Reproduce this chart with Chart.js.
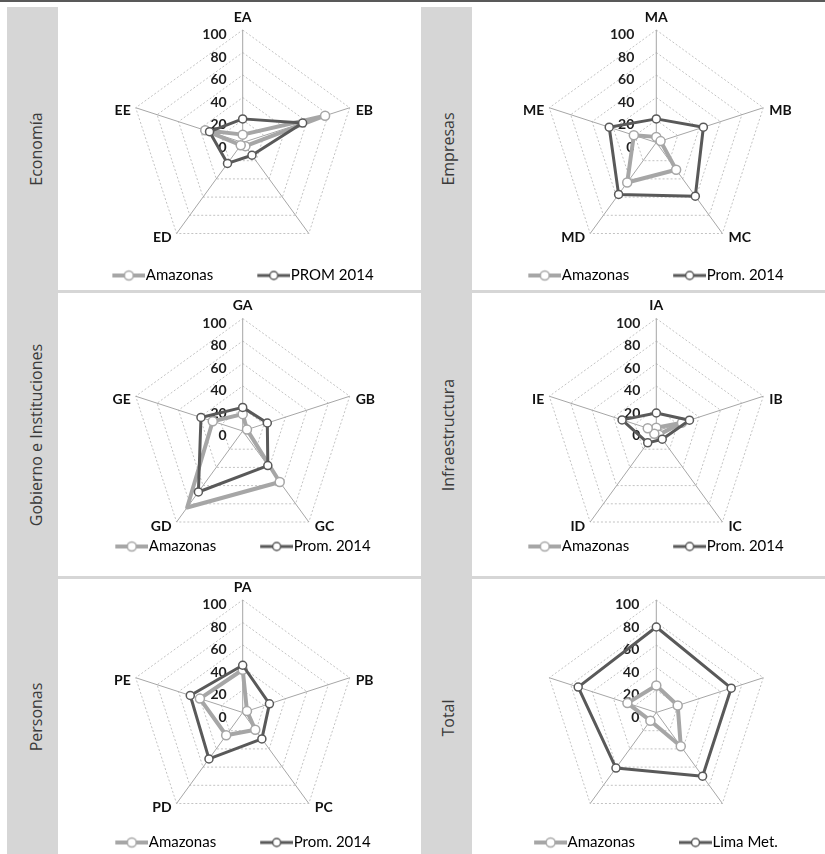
<!DOCTYPE html>
<html>
<head>
<meta charset="utf-8">
<script src="https://cdn.jsdelivr.net/npm/chart.js@4/dist/chart.umd.min.js"></script>
<style>
html,body{margin:0;padding:0;background:#fff;overflow:hidden;}
#page{position:relative;width:825px;height:854px;overflow:hidden;background:#fff;}
.topline{position:absolute;left:0;top:0;width:825px;height:2px;background:#595959;}
.bar{position:absolute;top:7px;height:847px;width:51px;background:#d6d6d6;}
.sep{position:absolute;height:3px;background:#d6d6d6;}
.side{position:absolute;transform:translate(-50%,-50%) rotate(-90deg);white-space:nowrap;font-family:"Open Sans",sans-serif;font-size:16px;color:#3a3a3a;}
canvas{position:absolute;}
</style>
</head>
<body>
<div id="page">
  <div class="topline"></div>
  <div class="bar" style="left:7px"></div>
  <div class="bar" style="left:421px"></div>
  <div class="sep" style="left:58px;width:363px;top:290px"></div>
  <div class="sep" style="left:472px;width:353px;top:290px"></div>
  <div class="sep" style="left:58px;width:363px;top:576px"></div>
  <div class="sep" style="left:472px;width:353px;top:576px"></div>
  <div class="side" style="left:35.5px;top:149px">Economía</div>
  <div class="side" style="left:447.5px;top:149px">Empresas</div>
  <div class="side" style="left:35.5px;top:435px">Gobierno e Instituciones</div>
  <div class="side" style="left:447.5px;top:435px">Infraestructura</div>
  <div class="side" style="left:35.5px;top:717px">Personas</div>
  <div class="side" style="left:447.5px;top:718px">Total</div>
</div>
<script>
// ---------------- data ----------------
const RING_TICKS = [0, 20, 40, 60, 80, 100];

const ecoCats = ['EA', 'EB', '', 'ED', 'EE'];
const ecoAmazonas = [7, 77, 4, 3, 35];
const ecoProm = [21, 56, 14, 23, 31];
const ecoNames = ['Amazonas', 'PROM 2014'];

const empCats = ['MA', 'MB', 'MC', 'MD', 'ME'];
const empAmazonas = [5, 4, 30, 44, 21];
const empProm = [21, 44, 59, 57, 44];
const empNames = ['Amazonas', 'Prom. 2014'];

const gobCats = ['GA', 'GB', 'GC', 'GD', 'GE'];
const gobAmazonas = [15, 4, 56, 84, 28];
const gobProm = [21, 23, 38, 67, 39];
const gobNames = ['Amazonas', 'Prom. 2014'];

const infCats = ['IA', 'IB', 'IC', 'ID', 'IE'];
const infAmazonas = [3, 24, 4, 3, 8];
const infProm = [16, 31, 9, 13, 32];
const infNames = ['Amazonas', 'Prom. 2014'];

const perCats = ['PA', 'PB', 'PC', 'PD', 'PE'];
const perAmazonas = [38, 4, 19, 25, 40];
const perProm = [42, 25, 29, 51, 49];
const perNames = ['Amazonas', 'Prom. 2014'];

const totCats = ['Economía', 'Empresas', 'Gobierno e Instituciones', 'Infraestructura', 'Personas'];
const totAmazonas = [24, 20, 37, 9, 27];
const totLima = [76, 70, 70, 61, 73];
const totNames = ['Amazonas', 'Lima Met.'];

// ---------------- styles ----------------
const LIGHT = '#a6a6a6';
const DARK = '#595959';
const CANVAS_W = 400;

const panels = [
  {cats: ecoCats, a: ecoAmazonas, b: ecoProm, names: ecoNames, left: 43, top: 0, h: 293, cx: 199.7, cy: 142.5, gap: 16, labels: true},
  {cats: empCats, a: empAmazonas, b: empProm, names: empNames, left: 456, top: 0, h: 293, cx: 200.3, cy: 142.5, gap: 22, labels: true},
  {cats: gobCats, a: gobAmazonas, b: gobProm, names: gobNames, left: 43, top: 292, h: 272, cx: 199.7, cy: 139, gap: 16, labels: true},
  {cats: infCats, a: infAmazonas, b: infProm, names: infNames, left: 456, top: 292, h: 272, cx: 200.3, cy: 139, gap: 16, labels: true},
  {cats: perCats, a: perAmazonas, b: perProm, names: perNames, left: 43, top: 578, h: 282, cx: 199.7, cy: 134.5, gap: 16, labels: true},
  {cats: totCats, a: totAmazonas, b: totLima, names: totNames, left: 456, top: 578, h: 282, cx: 200.3, cy: 134.5, gap: 17, labels: false}
];
const RADIUS = 112.5;
const LABEL_FONT = {family: 'Lato', size: 14, weight: 'bold'};

function legendSymbol(color, lineW, r, bw) {
  const c = document.createElement('canvas');
  c.width = 40; c.height = 14;
  const g = c.getContext('2d');
  g.strokeStyle = color; g.lineWidth = lineW;
  g.beginPath(); g.moveTo(7, 7); g.lineTo(40, 7); g.stroke();
  g.beginPath(); g.arc(23.5, 7, r, 0, Math.PI * 2);
  g.fillStyle = '#fff'; g.fill();
  g.lineWidth = bw; g.stroke();
  return c;
}

function makeAfterFit(geo) {
  return function (scale) {
    const saved = {l: scale.left, r: scale.right, t: scale.top, b: scale.bottom};
    scale.left = -1e5; scale.right = 1e5; scale.top = -1e5; scale.bottom = 1e5;
    scale.xCenter = geo.cx; scale.yCenter = geo.cy; scale.drawingArea = geo.r;
    scale.fit();
    scale.left = saved.l; scale.right = saved.r; scale.top = saved.t; scale.bottom = saved.b;
    scale.xCenter = geo.cx; scale.yCenter = geo.cy; scale.drawingArea = geo.r;
    const items = scale._pointLabelItems;
    if (items && items.length) {
      const lh = LABEL_FONT.size * 1.2;
      items.forEach((it, i) => {
        const v = scale.getPointPosition(i, geo.r);
        const a = Math.round(i * 360 / items.length);
        let x = v.x, c, align;
        if (a === 0) { align = 'center'; c = v.y - 13; }
        else if (a < 180) { align = 'left'; x = v.x + 6; c = v.y + (a < 90 ? 3 : 4); }
        else { align = 'right'; x = v.x - 5; c = v.y + (a > 270 ? 3 : 4); }
        it.x = x; it.y = c - lh / 2; it.textAlign = align;
      });
    }
  };
}

function makeTickPlugin(gap) {
  return {
    id: 'ringTickLabels',
    beforeDatasetsDraw(chart) {
      const s = chart.scales.r;
      const ctx = chart.ctx;
      ctx.save();
      ctx.font = 'bold ' + LABEL_FONT.size + 'px Lato';
      ctx.fillStyle = '#1e1e1e';
      ctx.textAlign = 'left';
      ctx.textBaseline = 'middle';
      RING_TICKS.forEach(v => {
        const label = String(v);
        const w = ctx.measureText(label).width;
        const d = s.getDistanceFromCenterForValue(v);
        ctx.fillText(label, s.xCenter - gap - w, s.yCenter - d + 4.5);
      });
      ctx.restore();
    }
  };
}

const page = document.getElementById('page');
const symLight = legendSymbol(LIGHT, 4, 4.5, 1.5);
const symDark = legendSymbol(DARK, 3, 4, 1.5);

panels.forEach(p => {
  const cv = document.createElement('canvas');
  cv.width = CANVAS_W; cv.height = p.h;
  cv.style.left = p.left + 'px'; cv.style.top = p.top + 'px';
  cv.style.width = CANVAS_W + 'px'; cv.style.height = p.h + 'px';
  page.appendChild(cv);
  new Chart(cv, {
    type: 'radar',
    data: {
      labels: p.cats,
      datasets: [
        {label: p.names[0], data: p.a, borderColor: LIGHT, borderWidth: 4, pointRadius: 4.5,
         pointBackgroundColor: '#fff', pointBorderColor: LIGHT, pointBorderWidth: 1.5,
         fill: false, order: 1, clip: false, borderJoinStyle: 'round'},
        {label: p.names[1], data: p.b, borderColor: DARK, borderWidth: 3, pointRadius: 4,
         pointBackgroundColor: '#fff', pointBorderColor: DARK, pointBorderWidth: 1.5,
         fill: false, order: 0, clip: false, borderJoinStyle: 'round'}
      ]
    },
    options: {
      responsive: false, animation: false, devicePixelRatio: 1,
      layout: {padding: 0},
      elements: {line: {tension: 0}},
      scales: {
        r: {
          min: 0, max: 100,
          ticks: {display: false, stepSize: 20},
          grid: {color: '#c3c3c3', lineWidth: 1},
          border: {dash: [2, 2]},
          angleLines: {color: '#a6a6a6', lineWidth: 1},
          pointLabels: {display: p.labels, font: LABEL_FONT, color: '#111', padding: 5},
          afterFit: makeAfterFit({cx: p.cx, cy: p.cy, r: RADIUS})
        }
      },
      plugins: {
        tooltip: {enabled: false},
        legend: {
          position: 'bottom',
          labels: {
            usePointStyle: true, pointStyleWidth: 26, padding: 44,
            font: {family: 'Lato', size: 15}, color: '#333',
            generateLabels: (chart) => chart.data.datasets.map((ds, i) => ({
              text: ds.label, datasetIndex: i, hidden: false,
              pointStyle: i === 0 ? symLight : symDark,
              fillStyle: '#fff', strokeStyle: ds.borderColor, lineWidth: 0
            }))
          }
        }
      }
    },
    plugins: [makeTickPlugin(p.gap)]
  });
});
</script>
</body>
</html>
